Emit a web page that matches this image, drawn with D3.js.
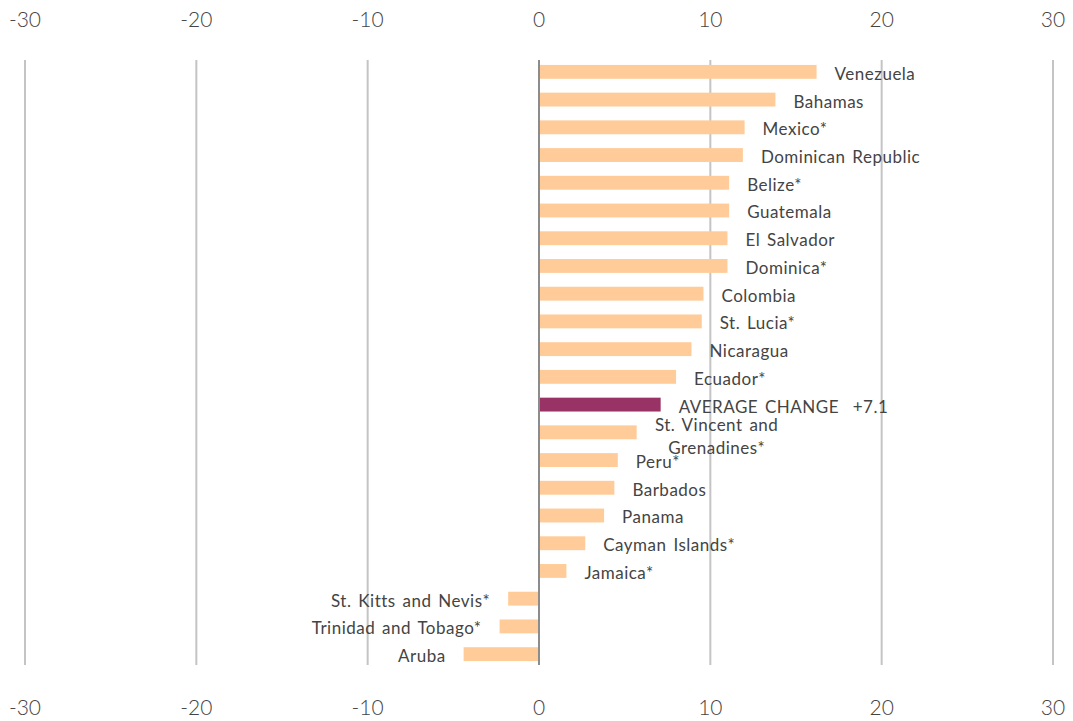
<!DOCTYPE html>
<html>
<head>
<meta charset="utf-8">
<script src="https://cdn.jsdelivr.net/npm/d3@7"></script>
<style>
  body { margin: 0; background: #fff; }
  text { font-family: "Lato", "Open Sans", sans-serif; fill: #444; }
</style>
</head>
<body>
<svg id="chart" width="1073" height="721"></svg>
<script>
const countries = ["Venezuela", "Bahamas", "Mexico*", "Dominican Republic", "Belize*", "Guatemala",
    "El Salvador", "Dominica*", "Colombia", "St. Lucia*", "Nicaragua", "Ecuador*",
    "AVERAGE CHANGE  +7.1", "St. Vincent and|Grenadines*", "Peru*", "Barbados", "Panama",
    "Cayman Islands*", "Jamaica*", "St. Kitts and Nevis*", "Trinidad and Tobago*", "Aruba"];
const changes = [16.2, 13.8, 12.0, 11.9, 11.1, 11.1, 11.0, 11.0, 9.6, 9.5, 8.9, 8.0,
    7.1, 5.7, 4.6, 4.4, 3.8, 2.7, 1.6, -1.8, -2.3, -4.4];
const tickValues = [-30, -20, -10, 0, 10, 20, 30];
const averageIndex = 12;

let svg = d3.select("#chart");

let x = d3.scaleLinear().domain([-30, 30]).range([25, 1053]);
let y = d3.scaleBand().domain(d3.range(countries.length)).range([58, 668]).paddingInner(0.5).paddingOuter(0.25);

// grid lines
svg.append("g")
    .selectAll("line")
    .data(tickValues.filter(d => d !== 0))
    .enter().append("line")
    .attr("x1", d => x(d)).attr("x2", d => x(d))
    .attr("y1", 60).attr("y2", 665)
    .attr("stroke", "#c4c4c4")
    .attr("stroke-width", 2);

// tick labels top and bottom
[20, 708].forEach(ty => {
    svg.append("g")
        .selectAll("text")
        .data(tickValues)
        .enter().append("text")
        .attr("x", d => x(d))
        .attr("y", ty)
        .attr("dy", "0.35em")
        .attr("text-anchor", "middle")
        .style("font-size", "21px")
        .style("font-weight", 300)
        .text(d => d);
});

let data = countries.map((c, i) => ({name: c, value: changes[i], i: i}));

svg.append("g")
    .selectAll("rect")
    .data(data)
    .enter().append("rect")
    .attr("x", d => x(Math.min(0, d.value)))
    .attr("width", d => Math.abs(x(d.value) - x(0)))
    .attr("y", d => y(d.i))
    .attr("height", y.bandwidth())
    .attr("fill", d => d.i === averageIndex ? "#993366" : "#ffcc99");

// zero line
svg.append("line")
    .attr("x1", x(0)).attr("x2", x(0))
    .attr("y1", 60).attr("y2", 665)
    .attr("stroke", "#8c8c8c")
    .attr("stroke-width", 2);

let labels = svg.append("g")
    .selectAll("text")
    .data(data)
    .enter().append("text")
    .style("font-size", "17px")
    .style("letter-spacing", "0.5px")
    .style("word-spacing", "2px")
    .style("white-space", "pre")
    .attr("y", d => y(d.i) + y.bandwidth() / 2 + 2)
    .attr("dy", "0.35em");

labels.each(function (d) {
    let t = d3.select(this);
    let parts = d.name.split("|");
    if (parts.length > 1) {
        // two-line label, centred
        let cx = x(d.value) + 80;
        t.attr("text-anchor", "middle").attr("dy", null);
        parts.forEach((p, k) => {
            t.append("tspan")
                .attr("x", cx)
                .attr("y", y(d.i) + y.bandwidth() / 2 + (k === 0 ? -1 : 22))
                .text(p);
        });
    } else if (d.value >= 0) {
        t.attr("x", x(d.value) + 18).attr("text-anchor", "start").text(d.name);
    } else {
        t.attr("x", x(d.value) - 18).attr("text-anchor", "end").text(d.name);
    }
});
</script>
</body>
</html>
